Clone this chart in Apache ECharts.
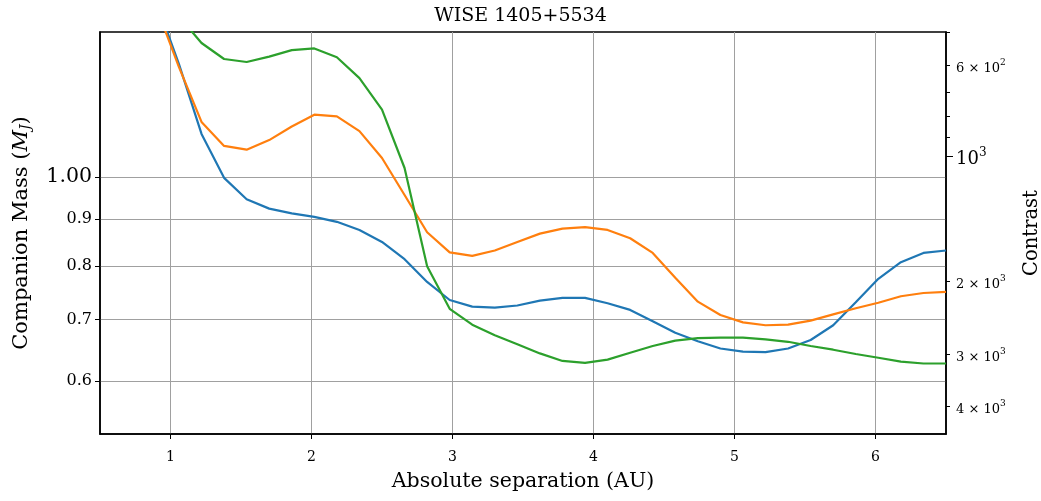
<!DOCTYPE html>
<html>
<head>
<meta charset="utf-8">
<script src="https://cdn.jsdelivr.net/npm/echarts@6/dist/echarts.min.js"></script>
<style>html,body{margin:0;padding:0;background:#fff}#c{width:1041px;height:501px}</style>
</head>
<body>
<div id="c"></div>
<script>
// Separation grid (AU)
const sep = [0.90,1.06,1.22,1.38,1.54,1.70,1.86,2.02,2.18,2.34,2.50,2.66,2.82,2.98,3.14,3.30,3.46,3.62,3.78,3.94,4.10,4.26,4.42,4.58,4.74,4.90,5.06,5.22,5.38,5.54,5.70,5.86,6.02,6.18,6.34,6.50];
// Companion mass (M_J) per curve
const massBlue = [1.55,1.327,1.114,0.998,0.946,0.924,0.913,0.905,0.894,0.876,0.850,0.814,0.769,0.735,0.723,0.721,0.725,0.734,0.739,0.739,0.729,0.717,0.697,0.677,0.663,0.651,0.646,0.645,0.651,0.665,0.690,0.731,0.775,0.808,0.827,0.832];
const massOrange = [1.53,1.317,1.148,1.081,1.071,1.097,1.135,1.169,1.164,1.122,1.049,0.956,0.871,0.828,0.821,0.832,0.850,0.868,0.879,0.882,0.876,0.858,0.827,0.777,0.732,0.708,0.695,0.690,0.691,0.698,0.709,0.720,0.730,0.742,0.748,0.750];
const massGreen = [1.75,1.495,1.399,1.344,1.334,1.352,1.374,1.380,1.350,1.281,1.184,1.023,0.800,0.719,0.691,0.673,0.658,0.643,0.631,0.628,0.633,0.644,0.655,0.664,0.668,0.669,0.669,0.666,0.662,0.655,0.649,0.642,0.636,0.630,0.627,0.627];
// Axis ticks
const xTicks = [1,2,3,4,5,6];
const massTicks = [0.6,0.7,0.8,0.9,1.0];
const massTickLabels = ['0.6','0.7','0.8','0.9','1.00'];
const contrastMinorTicks = [500,600,700,800,900,2000,3000,4000];
const contrastMajorTicks = [1000];
const contrastLabelValues = [600,1000,2000,3000,4000];
const contrastLabels = ['{m|6 × 10}{p|2}','{b|10}{q|3}','{m|2 × 10}{p|3}','{m|3 × 10}{p|3}','{m|4 × 10}{p|3}'];
// Axis ranges
const xRange = [0.5,6.5];
const massRange = [0.5255,1.438];
const contrastRange = [500,4677];

const L = Math.log10;
const FONT = '"DejaVu Serif", "Liberation Serif", serif';
const toData = m => sep.map((s,i)=>[s, L(m[i])]);
function nearestLabel(v, vals, labels){
  let bi=0, bd=1e9;
  vals.forEach((t,i)=>{const d=Math.abs(L(t)-v); if(d<bd){bd=d;bi=i;}});
  return labels[bi];
}
const chart = echarts.init(document.getElementById('c'), null, {renderer:'canvas'});
const gridColor = '#a0a0a0';
const option = {
  animation:false,
  backgroundColor:'#fff',
  title:{text:'WISE 1405+5534', left:'center', top:2,
    textStyle:{fontFamily:FONT, fontSize:19, fontWeight:'normal', color:'#000'}},
  grid:{left:100, right:95, top:32, bottom:67, show:true, borderColor:'#000', borderWidth:1.5,
    containLabel:false, outerBoundsMode:'none'},
  xAxis:{type:'value', min:xRange[0], max:xRange[1],
    name:'Absolute separation (AU)', nameLocation:'middle', nameGap:37,
    nameTextStyle:{fontFamily:FONT, fontSize:20.5, color:'#000'},
    axisLine:{show:true, onZero:false, lineStyle:{color:'#000', width:1.5}},
    axisTick:{show:true, length:5, customValues:xTicks, lineStyle:{color:'#000', width:1}},
    axisLabel:{customValues:xTicks, margin:16, fontFamily:FONT, fontSize:14, color:'#000'},
    splitLine:{show:true, lineStyle:{color:gridColor, width:1}}
  },
  yAxis:[
    {type:'value', min:L(massRange[0]), max:L(massRange[1]), position:'left',
      name:'{n|Companion Mass (}{i|M}{s|J}{n|)}', nameLocation:'middle', nameGap:67, nameRotate:90,
      nameTextStyle:{fontFamily:FONT, fontSize:21, color:'#000',
        rich:{n:{fontFamily:FONT, fontSize:21, color:'#000'},
              i:{fontFamily:FONT, fontSize:21, fontStyle:'italic', color:'#000'},
              s:{fontFamily:FONT, fontSize:14, fontStyle:'italic', color:'#000', verticalAlign:'bottom', padding:[9,0,0,0]}}},
      axisLine:{show:true, onZero:false, lineStyle:{color:'#000', width:1.5}},
      axisTick:{show:true, length:5, customValues:massTicks.map(L), lineStyle:{color:'#000', width:1}},
      axisLabel:{customValues:massTicks.map(L), margin:8, fontFamily:FONT, fontSize:16, color:'#000',
        formatter:v=>{const t=nearestLabel(v, massTicks, massTickLabels); return t==='1.00'?'{b|1.00}':t;},
        rich:{b:{fontFamily:FONT, fontSize:20.5, color:'#000'}}},
      splitLine:{show:true, lineStyle:{color:gridColor, width:1}}
    },
    {type:'value', min:L(contrastRange[0]), max:L(contrastRange[1]), position:'right', inverse:true,
      name:'Contrast', nameLocation:'middle', nameGap:76, nameRotate:90,
      nameTextStyle:{fontFamily:FONT, fontSize:19.5, color:'#000'},
      axisLine:{show:true, onZero:false, lineStyle:{color:'#000', width:1.5}},
      axisTick:{show:true, length:4, customValues:contrastMinorTicks.map(L), lineStyle:{color:'#000', width:1}},
      axisLabel:{customValues:contrastLabelValues.map(L), margin:10, fontFamily:FONT, fontSize:13, color:'#000',
        formatter:v=>nearestLabel(v, contrastLabelValues, contrastLabels),
        rich:{
          m:{fontFamily:FONT, fontSize:13, color:'#000', lineHeight:20, verticalAlign:'bottom'},
          p:{fontFamily:FONT, fontSize:9, color:'#000', lineHeight:20, verticalAlign:'top', padding:[3,0,0,0]},
          b:{fontFamily:FONT, fontSize:18, color:'#000', lineHeight:24, verticalAlign:'bottom'},
          q:{fontFamily:FONT, fontSize:12, color:'#000', lineHeight:24, verticalAlign:'top', padding:[2,0,0,0]}
        }},
      splitLine:{show:false}
    },
    {type:'value', min:L(contrastRange[0]), max:L(contrastRange[1]), position:'right', inverse:true,
      axisLine:{show:false},
      axisTick:{show:true, length:7, customValues:contrastMajorTicks.map(L), lineStyle:{color:'#000', width:1}},
      axisLabel:{show:false},
      splitLine:{show:false}
    }
  ],
  series:[
    {name:'curve 1', type:'line', data:toData(massBlue), yAxisIndex:0, showSymbol:false, symbol:'none',
      lineStyle:{color:'#1f77b4', width:2.2}, itemStyle:{color:'#1f77b4'}, z:3},
    {name:'curve 2', type:'line', data:toData(massOrange), yAxisIndex:0, showSymbol:false, symbol:'none',
      lineStyle:{color:'#ff7f0e', width:2.2}, itemStyle:{color:'#ff7f0e'}, z:4},
    {name:'curve 3', type:'line', data:toData(massGreen), yAxisIndex:0, showSymbol:false, symbol:'none',
      lineStyle:{color:'#2ca02c', width:2.2}, itemStyle:{color:'#2ca02c'}, z:5}
  ]
};
chart.setOption(option);
</script>
</body>
</html>
